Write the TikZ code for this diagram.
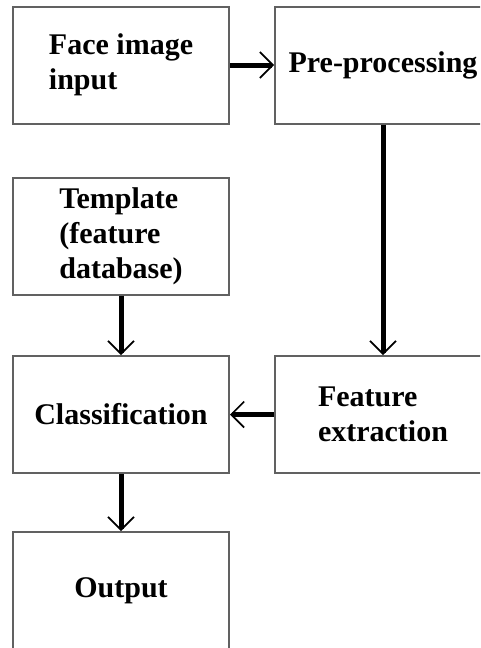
\documentclass[tikz,border=0pt]{standalone}
\usepackage{fontspec}
\setmainfont{Liberation Serif}
\usetikzlibrary{arrows.meta}
\tikzset{
  blk/.style={draw=black!62, line width=2pt, fill=white, minimum width=216pt, minimum height=117pt,
    inner sep=0pt, align=left, font=\fontsize{30}{35}\selectfont\bfseries},
  flow/.style={line width=5pt, -{Straight Barb[length=13pt, width=26pt, line width=1.6pt]}}
}
\begin{document}
\begin{tikzpicture}[x=1pt,y=-1pt]
\fill[white] (0,0) rectangle (480,648);
\clip (0,0) rectangle (480,648);
\node[blk] (fi) at (121,65) {Face image\\input};
\node[blk] (pp) at (383,65) {Pre-processing};
\node[blk] (tp) at (121,236) {Template\\(feature\\database)};
\node[blk] (cl) at (121,414.5) {Classification};
\node[blk] (fe) at (383,414.5) {Feature\\extraction};
\node[blk] (op) at (121,590.5) {Output};
\draw[flow] (fi.east) -- (pp.west);
\draw[flow] (pp.south) -- (fe.north);
\draw[flow] (tp.south) -- (cl.north);
\draw[flow] (fe.west) -- (cl.east);
\draw[flow] (cl.south) -- (op.north);
\end{tikzpicture}
\end{document}
